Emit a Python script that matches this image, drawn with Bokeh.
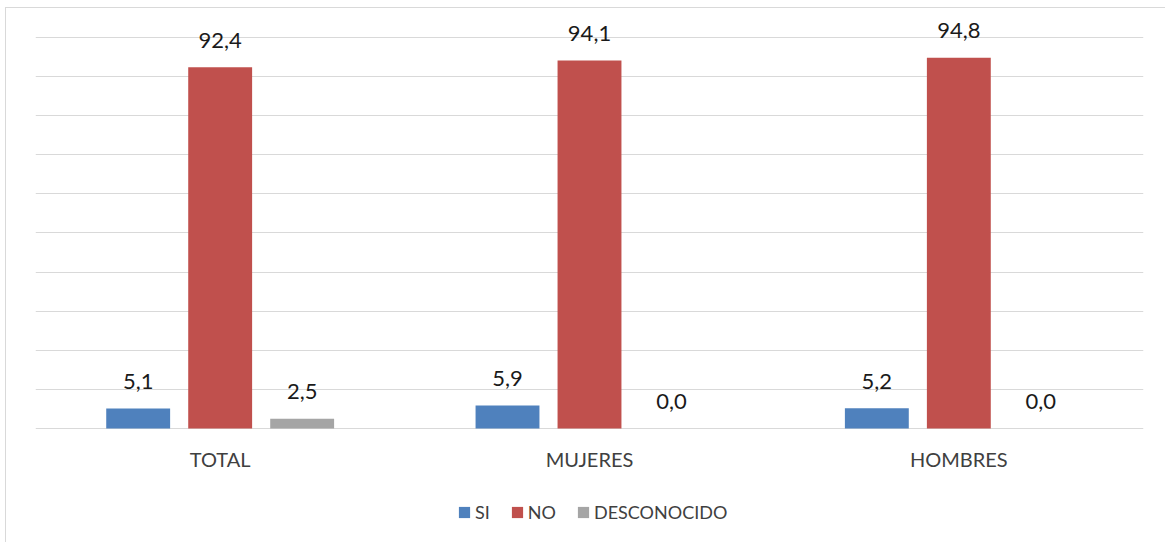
from bokeh.plotting import figure
from bokeh.models import ColumnDataSource, FixedTicker, Legend, LegendItem
from bokeh.transform import dodge
from bokeh.core.properties import value
from bokeh.embed import file_html
from bokeh.resources import INLINE

categories = ["TOTAL", "MUJERES", "HOMBRES"]
si = [5.1, 5.9, 5.2]
no = [92.4, 94.1, 94.8]
desconocido = [2.5, 0.0, 0.0]
series_names = ["SI", "NO", "DESCONOCIDO"]
colors = ["#4F81BD", "#C0504D", "#A5A5A5"]

def fmt(vals):
    return [f"{v:.1f}".replace(".", ",") for v in vals]

src = ColumnDataSource(dict(
    cat=categories, si=si, no=no, desc=desconocido,
    si_l=fmt(si), no_l=fmt(no), desc_l=fmt(desconocido),
    base=[0] * len(categories),
))

W, H = 1160, 535
p = figure(x_range=categories, y_range=(-29.4, 107.4), width=W, height=H,
           output_backend="svg", toolbar_location=None,
           min_border_left=29, min_border_right=23, min_border_top=0, min_border_bottom=0)
p.x_range.range_padding = 0
p.outline_line_color = None
p.background_fill_color = "white"
p.border_fill_color = "white"
p.styles = {"border-left": "1px solid #d9d9d9", "border-top": "1px solid #d9d9d9",
            "margin-left": "5px", "margin-top": "7px"}

FONT = "Lato"
offs = [-0.222, 0.0, 0.222]
cols = ["si", "no", "desc"]
renderers = []
for off, col, colr in zip(offs, cols, colors):
    r = p.vbar(x=dodge("cat", off, range=p.x_range), top=col, width=0.173, bottom=0,
               source=src, fill_color=colr, line_color=None)
    renderers.append(r)
    p.text(x=dodge("cat", off, range=p.x_range), y=col, text=col + "_l", source=src,
           text_align="center", text_baseline="alphabetic", y_offset=-27,
           text_font=value(FONT), text_font_size="22px", text_color="#1a1a1a")

# category labels under the baseline
p.text(x="cat", y="base", text="cat", source=src, text_align="center", text_baseline="top",
       y_offset=18, text_font=value(FONT), text_font_size="20px", text_color="#404040")

p.xaxis.visible = False
p.yaxis.visible = False
p.ygrid.ticker = FixedTicker(ticks=list(range(0, 101, 10)))
p.ygrid.grid_line_color = "#d9d9d9"
p.ygrid.grid_line_width = 1
p.xgrid.visible = False

legend = Legend(items=[LegendItem(label=n, renderers=[r]) for n, r in zip(series_names, renderers)],
                orientation="horizontal", location=(422, 20),
                glyph_width=14, glyph_height=14, label_standoff=4, spacing=20, label_width=0,
                padding=0, margin=0, border_line_color=None, background_fill_alpha=0,
                label_text_font=FONT, label_text_font_size="18px", label_text_color="#404040")
p.add_layout(legend, "center")

open("out.html", "w").write(file_html(p, INLINE))
